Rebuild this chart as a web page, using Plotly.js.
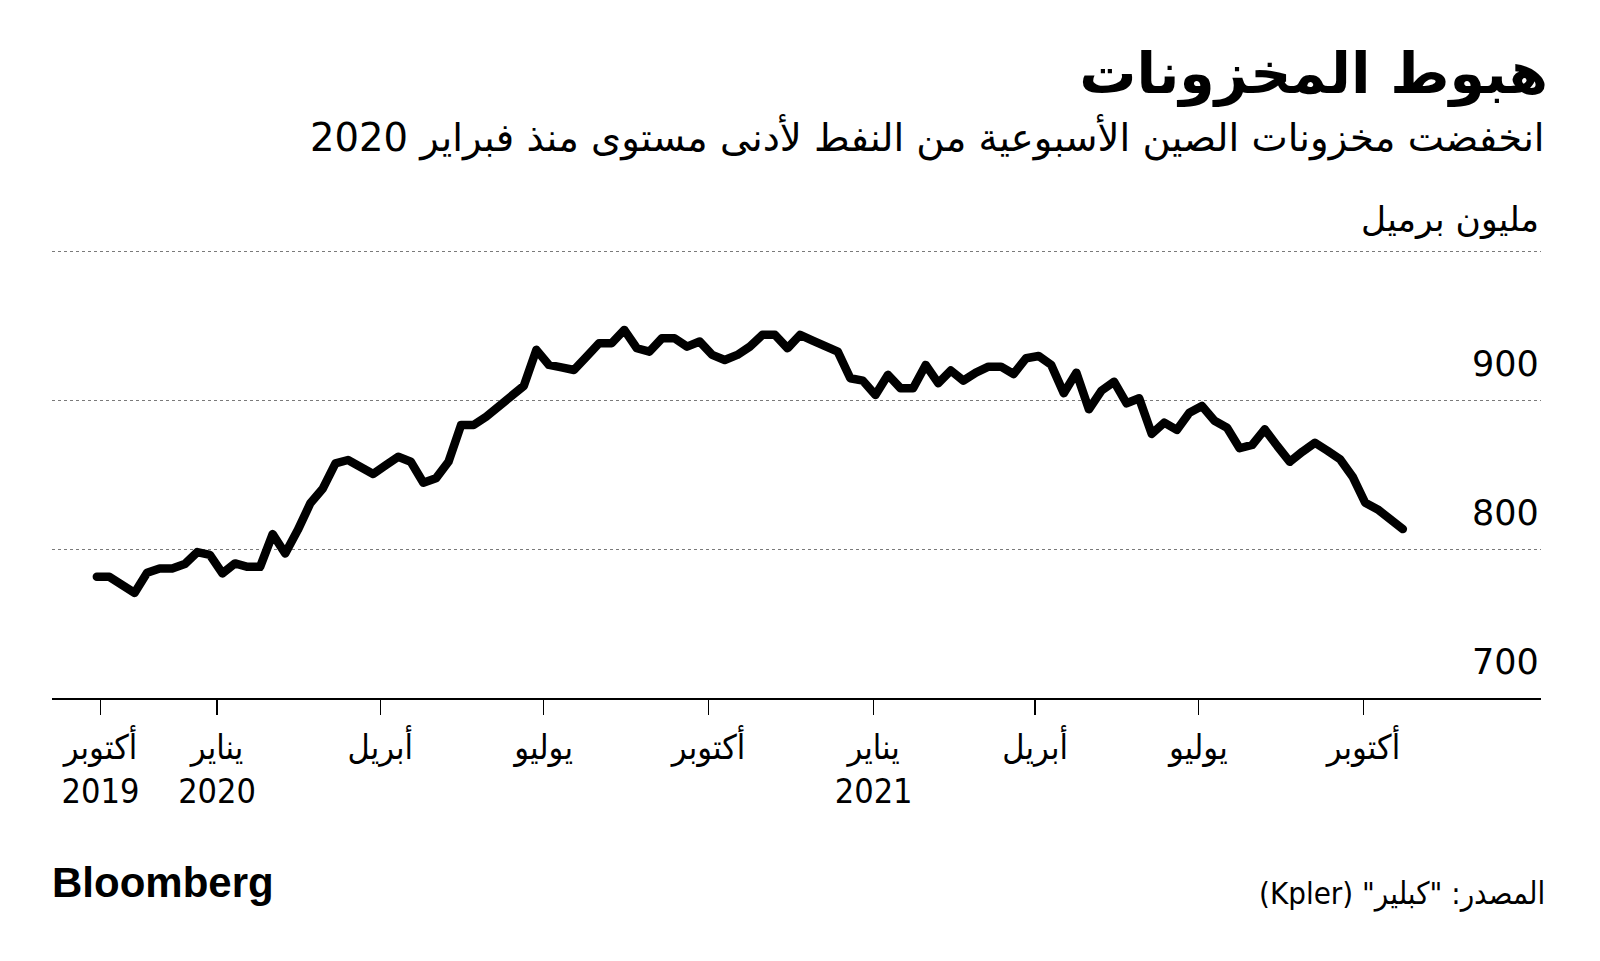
<!DOCTYPE html>
<html>
<head>
<meta charset="utf-8">
<script src="https://cdn.plot.ly/plotly-3.0.1.min.js"></script>
<style>
  html, body { margin: 0; padding: 0; background: #fff; }
  #chart { width: 1600px; height: 961px; }
  path.js-line { stroke-linejoin: round !important; stroke-linecap: round !important; }
</style>
</head>
<body>
<div id="chart"></div>
<script>
// ---- data ----
const weekDates = [
  '2019-10-26','2019-11-02','2019-11-09','2019-11-16','2019-11-23','2019-11-30','2019-12-07','2019-12-14','2019-12-21','2019-12-28',
  '2020-01-04','2020-01-11','2020-01-18','2020-01-25','2020-02-01','2020-02-08','2020-02-15','2020-02-22','2020-02-29',
  '2020-03-07','2020-03-14','2020-03-21','2020-03-28','2020-04-04','2020-04-11','2020-04-18','2020-04-25',
  '2020-05-02','2020-05-09','2020-05-16','2020-05-23','2020-05-30','2020-06-06','2020-06-13','2020-06-20','2020-06-27',
  '2020-07-04','2020-07-11','2020-07-18','2020-07-25','2020-08-01','2020-08-08','2020-08-15','2020-08-22','2020-08-29',
  '2020-09-05','2020-09-12','2020-09-19','2020-09-26','2020-10-03','2020-10-10','2020-10-17','2020-10-24','2020-10-31',
  '2020-11-07','2020-11-14','2020-11-21','2020-11-28','2020-12-05','2020-12-12','2020-12-19','2020-12-26',
  '2021-01-02','2021-01-09','2021-01-16','2021-01-23','2021-01-30','2021-02-06','2021-02-13','2021-02-20','2021-02-27',
  '2021-03-06','2021-03-13','2021-03-20','2021-03-27','2021-04-03','2021-04-10','2021-04-17','2021-04-24','2021-05-01',
  '2021-05-08','2021-05-15','2021-05-22','2021-05-29','2021-06-05','2021-06-12','2021-06-19','2021-06-26',
  '2021-07-03','2021-07-10','2021-07-17','2021-07-24','2021-07-31','2021-08-07','2021-08-14','2021-08-21','2021-08-28',
  '2021-09-04','2021-09-11','2021-09-18','2021-09-25','2021-10-02','2021-10-09','2021-10-16','2021-10-23'
];

const inventories = [
  781.4, 781.4, 776.0, 770.6, 784.1, 787.0, 787.0, 790.0, 798.0, 796.2,
  783.7, 790.4, 788.1, 788.1, 810.1, 797.1, 812.8, 830.8, 840.8,
  857.7, 859.9, 855.2, 850.5, 856.3, 862.1, 858.7, 844.6,
  847.6, 858.7, 883.4, 883.4, 889.0, 895.5, 902.1, 909.7, 933.9,
  923.8, 922.1, 920.4, 929.4, 938.4, 938.4, 947.3, 935.0, 932.7,
  941.7, 941.7, 936.1, 939.5, 930.5, 927.1, 930.5, 936.1, 944.0,
  944.0, 935.0, 944.0, 940.1, 936.1, 932.7, 914.8, 913.2,
  903.6, 917.1, 908.1, 908.1, 923.8, 911.5, 920.0, 913.2, 918.6,
  922.6, 922.6, 917.7, 928.3, 929.8, 923.8, 904.8, 918.6, 894.0,
  906.5, 912.5, 898.0, 901.4, 877.4, 885.0, 880.1, 891.7,
  896.2, 886.3, 881.6, 867.8, 870.0, 880.5, 869.3, 858.7, 865.5,
  871.5, 866.1, 860.4, 848.7, 831.2, 826.7, 820.0, 813.5
];

const xTickVals = ['2019-10-28','2020-01-01','2020-04-01','2020-07-01','2020-10-01','2021-01-01','2021-04-01','2021-07-01','2021-10-01'];
const xTickText = ['أكتوبر<br>2019','يناير<br>2020','أبريل','يوليو','أكتوبر','يناير<br>2021','أبريل','يوليو','أكتوبر'];

const yGridVals = [700, 800, 900, 1000];
const yLabelVals = [700, 800, 900];
const yLabelText = ['700', '800', '900'];

const titleText = 'هبوط المخزونات';
const subtitleText = 'انخفضت مخزونات الصين الأسبوعية من النفط لأدنى مستوى منذ فبراير 2020';
const unitText = 'مليون برميل';
const sourceText = 'المصدر: "كبلير" (Kpler)';
const brandText = 'Bloomberg';

// ---- layout helpers ----
const W = 1600, H = 961;
const M = {l: 52, r: 59, t: 250, b: 263};
const plotW = W - M.l - M.r, plotH = H - M.t - M.b;
const px2paperX = px => (px - M.l) / plotW;
const py2paperY = py => (H - M.b - py) / plotH;
const RLE = '\u202B', PDF = '\u202C';

const arabicFont = 'DejaVu Sans, Noto Sans, sans-serif';
const narrowFont = 'Liberation Sans Narrow, DejaVu Sans Condensed, DejaVu Sans, sans-serif';

const annotations = [];
yLabelVals.forEach((v, i) => {
  annotations.push({
    xref: 'paper', yref: 'y', x: 1, y: v, xanchor: 'right', yanchor: 'middle',
    yshift: 36, text: yLabelText[i], showarrow: false,
    font: {family: 'DejaVu Sans, sans-serif', size: 35, color: '#000'}
  });
});
annotations.push({
  xref: 'paper', yref: 'paper', x: px2paperX(1547), y: py2paperY(137), xanchor: 'right', yanchor: 'middle',
  text: RLE + subtitleText + PDF, showarrow: false,
  font: {family: arabicFont, size: 38.5, color: '#000'}
});
annotations.push({
  xref: 'paper', yref: 'paper', x: 1, y: py2paperY(219), xanchor: 'right', yanchor: 'middle',
  text: RLE + unitText + PDF, showarrow: false,
  font: {family: arabicFont, size: 34.5, color: '#000'}
});
annotations.push({
  xref: 'paper', yref: 'paper', x: px2paperX(1547), y: py2paperY(893), xanchor: 'right', yanchor: 'middle',
  text: RLE + sourceText + PDF, showarrow: false,
  font: {family: narrowFont, size: 31, color: '#000'}
});
annotations.push({
  xref: 'paper', yref: 'paper', x: px2paperX(50), y: py2paperY(882), xanchor: 'left', yanchor: 'middle',
  text: '<b>' + brandText + '</b>', showarrow: false,
  font: {family: 'Liberation Sans, Arial, sans-serif', size: 42, color: '#000'}
});

const trace = {
  type: 'scatter', mode: 'lines',
  x: weekDates, y: inventories,
  line: {color: '#000', width: 8.5},
  hoverinfo: 'skip'
};

const layout = {
  width: W, height: H,
  margin: M,
  paper_bgcolor: '#fff', plot_bgcolor: '#fff',
  showlegend: false,
  title: {
    text: '<b>' + RLE + titleText + PDF + '</b>',
    xref: 'container', yref: 'container',
    x: 1548 / W, xanchor: 'right',
    y: 1 - 73 / H, yanchor: 'middle',
    font: {family: arabicFont, size: 57, color: '#000'}
  },
  xaxis: {
    type: 'date',
    range: ['2019-10-01', '2022-01-08'],
    showgrid: false, zeroline: false,
    showline: true, linecolor: '#000', linewidth: 2,
    ticks: 'outside', ticklen: 15, tickwidth: 1.5, tickcolor: '#000',
    tickmode: 'array', tickvals: xTickVals, ticktext: xTickText,
    ticklabelstandoff: 3,
    tickfont: {family: narrowFont, size: 34, color: '#000'},
    fixedrange: true
  },
  yaxis: {
    range: [700, 1001],
    tickmode: 'array', tickvals: yGridVals,
    showticklabels: false, ticks: '',
    showgrid: true, gridcolor: '#7a7a7a', gridwidth: 1, griddash: 'dot',
    zeroline: false, showline: false,
    fixedrange: true
  },
  annotations: annotations
};

Plotly.newPlot('chart', [trace], layout, {displayModeBar: false, staticPlot: true});
</script>
</body>
</html>
